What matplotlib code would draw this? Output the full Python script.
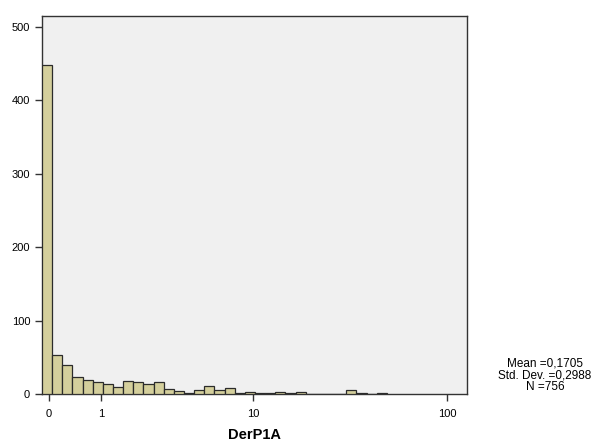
import numpy as np
import matplotlib
matplotlib.use('Agg')
import matplotlib.pyplot as plt

plt.rcParams['font.family'] = ['Liberation Sans', 'DejaVu Sans']

# histogram counts per bin (bins of equal width on the transformed scale)
counts = [448, 53, 40, 23, 19, 17, 14, 10, 18, 17, 14, 16, 7, 4, 2,
          5, 11, 5, 8, 2, 3, 2, 2, 3, 2, 3, 0, 0, 0, 0, 5, 2, 0, 1]
tick_pos = [0.7, 5.86, 20.95, 40.2]
tick_labels = ['0', '1', '10', '100']
stats = ['Mean =0,1705', 'Std. Dev. =0,2988', 'N =756']

fig = plt.figure(figsize=(5.92, 4.46), dpi=100)
ax = fig.add_axes([42/592, 1 - 394/446, 425/592, 378/446])
ax.set_facecolor('#f0f0f0')

edges = np.arange(len(counts) + 1) * 1.007
ax.bar(edges[:-1], counts, width=1.007, align='edge',
       color='#d4cf9c', edgecolor='#2b2b2b', linewidth=0.9, zorder=3)

ax.set_xlim(0, 42.2)
ax.set_ylim(0, 515)
ax.set_yticks([0, 100, 200, 300, 400, 500])
ax.set_xticks(tick_pos)
ax.set_xticklabels(tick_labels)
ax.tick_params(axis='both', direction='out', length=5, width=1,
               labelsize=8, color='#333333')
ax.tick_params(axis='x', pad=6)
for s in ax.spines.values():
    s.set_color('#333333')
    s.set_linewidth(1)

ax.set_xlabel('DerP1A', fontsize=10.5, fontweight='bold', labelpad=6)

fig.text(545/592, 1 - 358/446, '\n'.join(stats), ha='center', va='top',
         fontsize=8.5, linespacing=0.95)

fig.savefig('out.png', dpi=100)
